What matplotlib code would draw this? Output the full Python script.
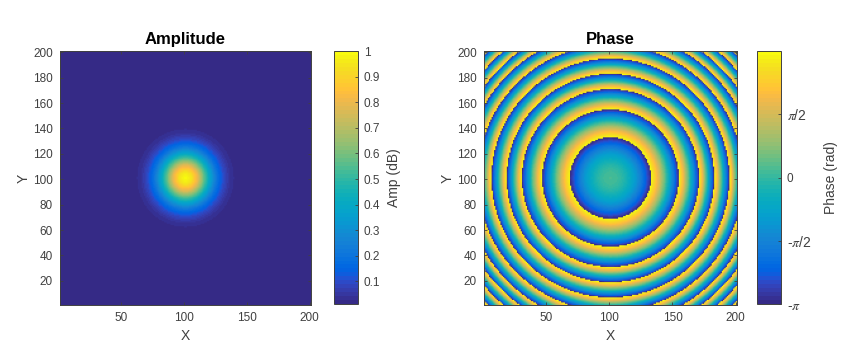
import numpy as np
from matplotlib import pyplot as plt
from matplotlib.colors import ListedColormap

plt.rcParams['font.family'] = ['Liberation Sans', 'DejaVu Sans']
plt.rcParams['mathtext.fontset'] = 'stix'

# radial amplitude (distance from centre -> value)
amp_radius = [0, 5, 10, 15, 20, 25, 30, 35, 40, 45, 50, 60, 150]
amp_value = [1.0, 0.94, 0.78, 0.56, 0.36, 0.2, 0.1, 0.045, 0.02, 0.014, 0.012, 0.012, 0.012]

# radii where the phase wraps from -pi to +pi
wrap_radius = [32, 54, 70, 82, 94, 105, 115, 123, 131, 139, 147]
phase_center = 0.2
center_xy = 101

x_ticks = [50, 100, 150, 200]
y_ticks = [20, 40, 60, 80, 100, 120, 140, 160, 180, 200]
amp_ticks = [0.1, 0.2, 0.3, 0.4, 0.5, 0.6, 0.7, 0.8, 0.9, 1]
amp_labels = ['0.1', '0.2', '0.3', '0.4', '0.5', '0.6', '0.7', '0.8', '0.9', '1']
phase_ticks = [-np.pi, -np.pi / 2, 0, np.pi / 2]
phase_labels = [r'-$\pi$', r'-$\pi$/2', '0', r'$\pi$/2']

parula = [
    [0.2081, 0.1663, 0.5292], [0.2116, 0.1898, 0.5777], [0.2123, 0.2138, 0.6270], [0.2081, 0.2386, 0.6771],
    [0.1959, 0.2645, 0.7279], [0.1707, 0.2919, 0.7792], [0.1253, 0.3242, 0.8303], [0.0591, 0.3598, 0.8683],
    [0.0117, 0.3875, 0.8820], [0.0060, 0.4086, 0.8828], [0.0165, 0.4266, 0.8786], [0.0329, 0.4430, 0.8720],
    [0.0498, 0.4586, 0.8641], [0.0629, 0.4737, 0.8554], [0.0723, 0.4887, 0.8467], [0.0779, 0.5040, 0.8384],
    [0.0793, 0.5200, 0.8312], [0.0749, 0.5375, 0.8263], [0.0641, 0.5570, 0.8240], [0.0488, 0.5772, 0.8228],
    [0.0343, 0.5966, 0.8199], [0.0265, 0.6137, 0.8135], [0.0239, 0.6287, 0.8038], [0.0231, 0.6418, 0.7913],
    [0.0228, 0.6535, 0.7768], [0.0267, 0.6642, 0.7607], [0.0384, 0.6743, 0.7436], [0.0590, 0.6838, 0.7254],
    [0.0843, 0.6928, 0.7062], [0.1133, 0.7015, 0.6859], [0.1453, 0.7098, 0.6646], [0.1801, 0.7177, 0.6424],
    [0.2178, 0.7250, 0.6193], [0.2586, 0.7317, 0.5954], [0.3022, 0.7376, 0.5712], [0.3482, 0.7424, 0.5473],
    [0.3953, 0.7459, 0.5244], [0.4420, 0.7481, 0.5033], [0.4871, 0.7491, 0.4840], [0.5300, 0.7491, 0.4661],
    [0.5709, 0.7485, 0.4494], [0.6099, 0.7473, 0.4337], [0.6473, 0.7456, 0.4188], [0.6834, 0.7435, 0.4044],
    [0.7184, 0.7411, 0.3905], [0.7525, 0.7384, 0.3768], [0.7858, 0.7356, 0.3633], [0.8185, 0.7327, 0.3498],
    [0.8507, 0.7299, 0.3360], [0.8824, 0.7274, 0.3217], [0.9139, 0.7258, 0.3063], [0.9450, 0.7261, 0.2886],
    [0.9739, 0.7314, 0.2666], [0.9938, 0.7455, 0.2403], [0.9990, 0.7653, 0.2164], [0.9955, 0.7861, 0.1967],
    [0.9880, 0.8066, 0.1794], [0.9789, 0.8271, 0.1633], [0.9697, 0.8481, 0.1475], [0.9626, 0.8705, 0.1309],
    [0.9589, 0.8949, 0.1132], [0.9598, 0.9218, 0.0948], [0.9661, 0.9514, 0.0755], [0.9763, 0.9831, 0.0538],
]
cmap = ListedColormap(parula)
dark = '#404040'


def radial_grid():
    c = np.arange(1, 201) + 0.5
    xx, yy = np.meshgrid(c, c)
    return np.hypot(xx - center_xy, yy - center_xy)


def phase_field(r):
    inner = np.array([0] + wrap_radius[:-1], dtype=float)
    outer = np.array(wrap_radius, dtype=float)
    n = np.searchsorted(outer, r)
    t = (r**2 - inner[n]**2) / (outer[n]**2 - inner[n]**2)
    phase = np.pi - 2 * np.pi * t
    disc = n == 0
    phase[disc] = phase_center - (phase_center + np.pi) * t[disc]
    return phase


def style_axes(ax, title):
    ax.set_title(title, fontsize=12, fontweight='bold', color='black', pad=5)
    ax.set_xlabel('X', fontsize=10, color=dark, labelpad=4)
    ax.set_ylabel('Y', fontsize=10, color=dark, labelpad=2)
    ax.set_xticks(x_ticks)
    ax.set_yticks(y_ticks)
    ax.set_xlim(1, 201)
    ax.set_ylim(1, 201)
    ax.tick_params(direction='in', length=2.5, width=0.6, labelsize=8.5, colors=dark, top=True, right=True, pad=5)
    for s in ax.spines.values():
        s.set_color(dark)
        s.set_linewidth(0.7)


def style_cbar(cb, label, ticks, labels, pad):
    cb.set_ticks(ticks)
    cb.set_ticklabels(labels)
    cb.ax.tick_params(direction='in', length=2.5, width=0.6, labelsize=8.5, colors=dark, pad=4)
    cb.set_label(label, fontsize=10, color=dark, labelpad=pad)
    cb.outline.set_edgecolor(dark)
    cb.outline.set_linewidth(0.7)


def main():
    W, H = 859.0, 343.0
    fig = plt.figure(figsize=(W / 100, H / 100), dpi=100)

    r = radial_grid()
    amp = np.interp(r, amp_radius, amp_value)
    phase = phase_field(r)
    extent = (1, 201, 1, 201)

    ax1 = fig.add_axes([60 / W, 1 - 305 / H, 251 / W, 254 / H])
    im1 = ax1.imshow(amp, origin='lower', extent=extent, cmap=cmap, vmin=0.012, vmax=1, aspect='auto')
    style_axes(ax1, 'Amplitude')
    cax1 = fig.add_axes([334 / W, 1 - 304 / H, 24 / W, 253 / H])
    style_cbar(fig.colorbar(im1, cax=cax1), 'Amp (dB)', amp_ticks, amp_labels, 5)

    ax2 = fig.add_axes([484 / W, 1 - 305 / H, 253 / W, 254 / H])
    im2 = ax2.imshow(phase, origin='lower', extent=extent, cmap=cmap, vmin=-np.pi, vmax=np.pi, aspect='auto')
    style_axes(ax2, 'Phase')
    cax2 = fig.add_axes([757 / W, 1 - 304 / H, 24 / W, 253 / H])
    cb2 = fig.colorbar(im2, cax=cax2)
    style_cbar(cb2, 'Phase (rad)', phase_ticks, phase_labels, 9)
    for t in cb2.ax.get_yticklabels():
        if 'pi' in t.get_text():
            t.set_fontsize(10)

    fig.savefig('out.png', dpi=100)


if __name__ == "__main__":
    main()
